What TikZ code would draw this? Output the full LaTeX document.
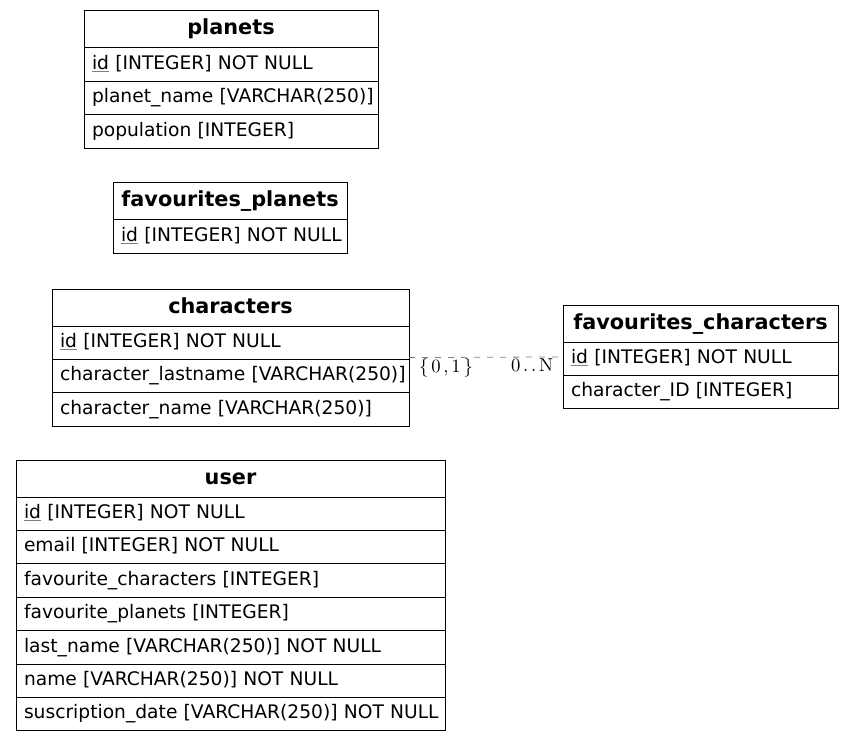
\documentclass[tikz,border=0pt]{standalone}
\usepackage{fontspec}
\setmainfont{DejaVu Sans}
\newfontfamily\lmfont[LetterSpace=15]{lmroman10-regular.otf}
\usetikzlibrary{positioning,fit}

% primary key marker
\newcommand{\pkid}{{\color{gray}\underline{\color{black}id}}}

\tikzset{
  tablehead/.style={draw, line width=1pt, outer sep=0pt, anchor=north west, minimum height=37pt,
    inner xsep=2pt, inner ysep=0pt, text height=15.5pt, text depth=4.5pt,
    font=\fontsize{20.8pt}{24pt}\selectfont\bfseries},
  tablerow/.style={draw, line width=1pt, outer sep=0pt, below=0pt of #1, minimum height=33.4pt,
    inner xsep=8pt, inner ysep=0pt, text height=14pt, text depth=4.5pt, align=left,
    font=\fontsize{18.67pt}{22pt}\selectfont,
    execute at begin node=\hbox\bgroup, execute at end node=\egroup},
  tablebox/.style={inner sep=0pt},
  cardlabel/.style={font=\fontsize{18.67pt}{22pt}\lmfont, inner sep=0pt, text=black}
}

\begin{document}
\begin{tikzpicture}[x=1pt,y=-1pt]
    \useasboundingbox (0,0) rectangle (855,741);

    % planets
    \node[tablehead, minimum width=294pt] (planets-h) at (84,11) {planets};
    \node[tablerow=planets-h, text width=278pt] (planets-1) {\pkid{} [INTEGER] NOT NULL};
    \node[tablerow=planets-1, text width=278pt] (planets-2) {planet\_name [VARCHAR(250)]};
    \node[tablerow=planets-2, text width=278pt] (planets-3) {population [INTEGER]};

    % favourites_planets
    \node[tablehead, minimum width=234pt] (favplanets-h) at (113,183) {favourites\_planets};
    \node[tablerow=favplanets-h, text width=218pt] (favplanets-1) {\pkid{} [INTEGER] NOT NULL};

    % characters
    \node[tablehead, minimum width=357pt] (characters-h) at (52,289) {characters};
    \node[tablerow=characters-h, text width=341pt] (characters-1) {\pkid{} [INTEGER] NOT NULL};
    \node[tablerow=characters-1, text width=341pt] (characters-2) {character\_lastname [VARCHAR(250)]};
    \node[tablerow=characters-2, text width=341pt] (characters-3) {character\_name [VARCHAR(250)]};
    \node[tablebox, fit=(characters-h)(characters-3)] (characters) {};

    % favourites_characters
    \node[tablehead, minimum width=275pt] (favchars-h) at (563,305) {favourites\_characters};
    \node[tablerow=favchars-h, text width=259pt] (favchars-1) {\pkid{} [INTEGER] NOT NULL};
    \node[tablerow=favchars-1, text width=259pt] (favchars-2) {character\_ID [INTEGER]};
    \node[tablebox, fit=(favchars-h)(favchars-2)] (favchars) {};

    % user
    \node[tablehead, minimum width=429pt] (user-h) at (16,460) {user};
    \node[tablerow=user-h, text width=413pt] (user-1) {\pkid{} [INTEGER] NOT NULL};
    \node[tablerow=user-1, text width=413pt] (user-2) {email [INTEGER] NOT NULL};
    \node[tablerow=user-2, text width=413pt] (user-3) {favourite\_characters [INTEGER]};
    \node[tablerow=user-3, text width=413pt] (user-4) {favourite\_planets [INTEGER]};
    \node[tablerow=user-4, text width=413pt] (user-5) {last\_name [VARCHAR(250)] NOT NULL};
    \node[tablerow=user-5, text width=413pt] (user-6) {name [VARCHAR(250)] NOT NULL};
    \node[tablerow=user-6, text width=413pt] (user-7) {suscription\_date [VARCHAR(250)] NOT NULL};

    % relation characters -- favourites_characters
    \draw[gray, line width=0.8pt, dash pattern=on 6pt off 7pt] (characters.east) -- (favchars.west)
        node[cardlabel, pos=0.24, below=1pt] (card-tail) {\{0,1\}}
        node[cardlabel, pos=0.8, below=1pt] (card-head) {0..N};
\end{tikzpicture}
\end{document}
